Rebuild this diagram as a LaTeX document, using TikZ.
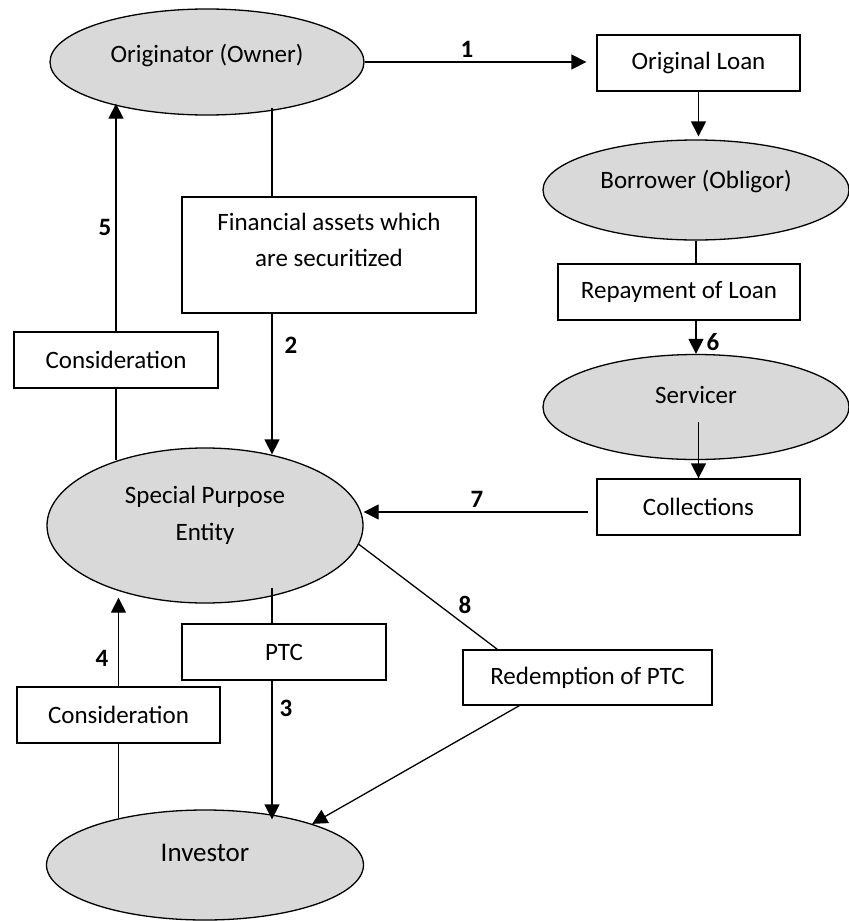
\documentclass[tikz,border=0pt]{standalone}
\usepackage{fontspec}
\setmainfont{Carlito}
\usetikzlibrary{shapes.geometric,arrows.meta}
\newcommand{\up}[2]{\raisebox{#1}[\height][\depth]{#2}}
\begin{document}
\begin{tikzpicture}[x=0.5pt,y=-0.5pt,
  ent/.style={ellipse, draw, line width=0.65pt, fill=black!15, inner sep=0pt, font=\fontsize{12.5}{15}\selectfont},
  box/.style={rectangle, draw, line width=0.65pt, fill=white, inner sep=0pt, font=\fontsize{12.5}{15}\selectfont},
  con/.style={line width=0.65pt},
  arr/.style={con, -{Triangle[length=7.5pt,width=7.5pt]}},
  num/.style={font=\fontsize{12.5}{15}\selectfont\bfseries, inner sep=0pt}]
\useasboundingbox (0,0) rectangle (849,921);

% nodes
\node[ent, minimum width=157pt, minimum height=53pt] (orig) at (207,62) {\up{3pt}{Originator (Owner)}};
\node[box, minimum width=101.5pt, minimum height=28pt] (loan) at (698.5,63) {Original Loan};
\node[ent, minimum width=153pt, minimum height=50pt] (borrow) at (696,190) {\up{4pt}{Borrower (Obligor)}};
\node[box, minimum width=121pt, minimum height=28pt] (repay) at (679,292) {Repayment of Loan};
\node[ent, minimum width=153pt, minimum height=52.5pt] (serv) at (696,407) {\up{6pt}{Servicer}};
\node[box, minimum width=101.5pt, minimum height=28pt] (coll) at (698.5,507) {Collections};
\node[box, minimum width=147pt, minimum height=58pt] (fin) at (329,255) {\up{6.5pt}{\begin{tabular}{@{}c@{}}Financial assets which\\[3pt] are securitized\end{tabular}}};
\node[box, minimum width=102pt, minimum height=28pt] (cons1) at (116,360) {Consideration};
\node[ent, minimum width=158pt, minimum height=77.5pt] (spe) at (205,525.5) {\up{5pt}{\begin{tabular}{@{}c@{}}Special Purpose\\[3.5pt] Entity\end{tabular}}};
\node[box, minimum width=102pt, minimum height=28pt] (ptc) at (284,652) {PTC};
\node[box, minimum width=124.5pt, minimum height=27.5pt] (redeem) at (587.5,677.5) {Redemption of PTC};
\node[box, minimum width=101.5pt, minimum height=28pt] (cons2) at (118.5,715) {Consideration};
\node[ent, minimum width=158.5pt, minimum height=55pt, font=\fontsize{13.5}{16}\selectfont] (inv) at (205,865) {\up{6pt}{Investor}};

% connectors
\draw[arr, shorten >=5pt] (orig.east) -- (orig.east -| loan.west);
\node[num] (n1) at (467,49) {1};

\draw[arr, shorten >=1.5pt] (loan.south) -- (loan.south |- borrow.north);

\draw[con] (borrow.south) -- (borrow.south |- repay.north);
\draw[arr] (borrow.south |- repay.south) -- (serv.north);
\node[num] (n6) at (713,342) {6};

\coordinate (sv) at ([yshift=-7.5pt]serv.center);
\draw[arr] (sv -| coll.north) -- (coll.north);

\coordinate (c7) at ([xshift=-4pt,yshift=-2.5pt]coll.west);
\draw[arr] (c7) -- (c7 -| spe.east);
\node[num] (n7) at (477,499) {7};

\coordinate (fx) at ([xshift=-28.5pt]fin.north);
\coordinate (fy) at ([xshift=-28.5pt]fin.south);
\draw[con, shorten >=-4pt] (fx) -- (fx |- orig.south);
\draw[arr, shorten >=-3.5pt] (fy) -- (fy |- spe.north);
\node[num] (n2) at (291,345) {2};

\draw[arr, shorten >=-6pt] (cons1.north) -- (cons1.north |- orig.south);
\draw[con, shorten >=-6.5pt] (cons1.south) -- (cons1.south |- spe.north);
\node[num] (n5) at (105,227) {5};

\coordinate (px) at ([xshift=-6pt]ptc.north);
\coordinate (pin) at ([yshift=8pt]spe.south);
\draw[con] (px |- pin) -- (px);
\draw[arr, shorten >=-5pt] (px |- ptc.south) -- (px |- inv.north);
\node[num] (n3) at (286,708) {3};

\draw[arr, shorten >=-3pt] (cons2.north) -- (cons2.north |- spe.south);
\draw[con, shorten >=-4.5pt] (cons2.south) -- (cons2.south |- inv.north);
\node[num] (n4) at (102,658) {4};

\draw[con] (spe.-7.4) -- ([xshift=17.5pt]redeem.north west);
\node[num] (n8) at (465,605) {8};
\draw[arr] ([xshift=28.5pt]redeem.south west) -- (inv.21);
\end{tikzpicture}
\end{document}
